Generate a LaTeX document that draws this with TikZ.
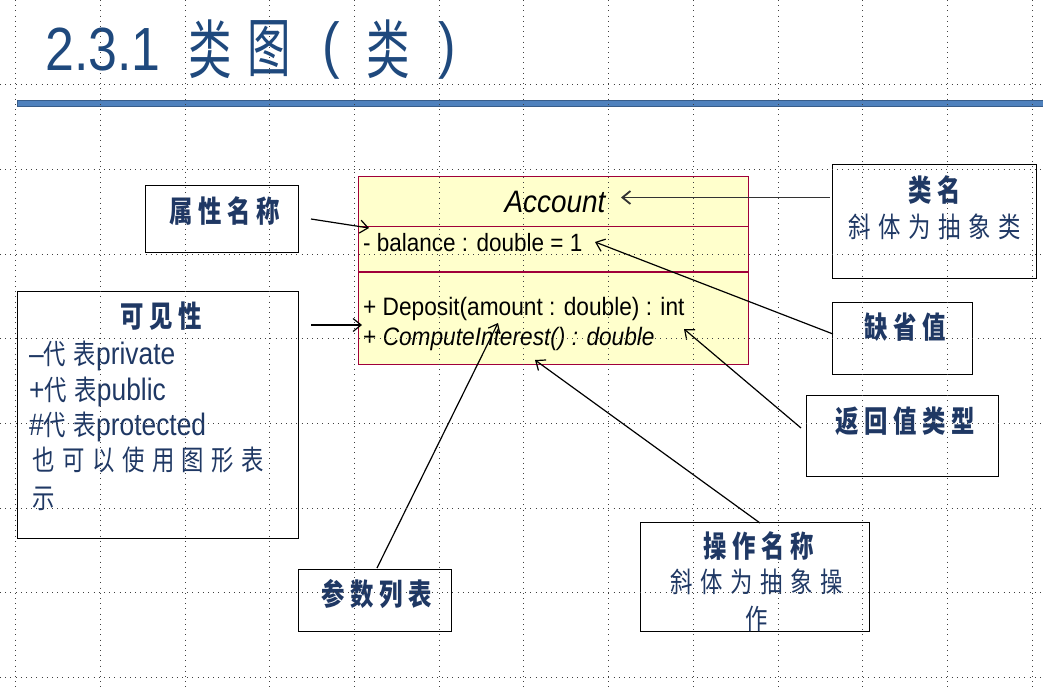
\documentclass[tikz,border=0pt]{standalone}
\usepackage{fontspec}
\usetikzlibrary{arrows.meta}
\setmainfont{Liberation Sans}
\newfontfamily\myUml[FakeStretch=0.9]{Liberation Sans}
\newfontfamily\myLat[FakeStretch=0.85]{Liberation Sans}
\newfontfamily\myCJKb[FakeStretch=0.78,LetterSpace=19]{Noto Sans CJK SC}
\newfontfamily\myCJKr[FakeStretch=0.8,LetterSpace=27]{Noto Sans CJK SC}
\newfontfamily\myCJKt[FakeStretch=0.68]{Noto Sans CJK SC}
\newcommand\myHdr{\fontsize{30}{30}\myCJKb\bfseries}
\newcommand\myBod{\fontsize{28}{28}\myCJKr}
\newcommand\myLatB{\fontsize{31}{31}\myLat}
\definecolor{tblue}{HTML}{1F497D}
\definecolor{lblue}{HTML}{1F3864}
\definecolor{barblue}{HTML}{4F81BD}
\definecolor{barline}{HTML}{385D8A}
\definecolor{clsfill}{HTML}{FFFFCC}
\definecolor{clsline}{HTML}{A0003A}
\tikzset{
  gridline/.style={line width=0.9pt, color=black!75, dash pattern=on 0.9pt off 4.3pt},
  lbox/.style={draw=black, line width=1.2pt, inner sep=0pt, anchor=north west},
  lab/.style={inner sep=0pt, text=lblue},
  ttl/.style={inner sep=0pt, text=tblue},
  umltext/.style={inner sep=0pt, text=black},
  arr/.style={-{Straight Barb[length=8pt,width=13pt]}, line width=1.2pt, black},
}
\begin{document}
\begin{tikzpicture}[x=1pt,y=-1pt]
\useasboundingbox (0,0) rectangle (1043,688);

% title
\node[ttl, anchor=base west] (t0) at (45,70) {\fontsize{61}{61}\myLat 2.3.1};
\node[ttl] (t1) at (210,49) {\fontsize{64}{64}\myCJKt 类};
\node[ttl] (t2) at (269.5,49) {\fontsize{64}{64}\myCJKt 图};
\node[ttl] (t3) at (331,50) {\fontsize{62}{62}\myLat (};
\node[ttl] (t4) at (388,49) {\fontsize{64}{64}\myCJKt 类};
\node[ttl] (t5) at (447.5,50) {\fontsize{62}{62}\myLat )};
\fill[barblue, draw=barline, line width=0.8pt] (17,100) rectangle (1043,106.5);

% class box
\node[draw=clsline, fill=clsfill, line width=1.2pt, minimum width=390pt, minimum height=188pt, anchor=north west, inner sep=0pt] (cls) at (358,176) {};
\draw[clsline, line width=1.2pt] (358,226.5) -- (748,226.5);
\draw[clsline, line width=1.2pt] (358,272) -- (748,272);
\node[umltext, anchor=base] (cname) at (555,212.5) {\fontsize{31}{31}\myUml\itshape Account};
\node[umltext, anchor=base west] (attr) at (363,251.5) {\fontsize{25}{25}\myUml - balance : double = 1};
\node[umltext, anchor=base west] (op1) at (363,315.5) {\fontsize{25.2}{25.2}\myUml + Deposit(amount : double) : int};
\node[umltext, anchor=base west] (op2) at (363,345) {\fontsize{25.2}{25.2}\myUml + \textit{ComputeInterest() : double}};

% label boxes
\node[lbox, minimum width=153pt, minimum height=67pt] (attrbox) at (145,185) {};
\node[lab] (attrlab) at (225,211) {\myHdr 属性名称};

\node[lbox, minimum width=281pt, minimum height=247pt] (visbox) at (17,291) {};
\node[lab] (vislab) at (161,316) {\myHdr 可见性};
\node[lab, anchor=base west] (v1) at (29,364) {{\myLatB –}\myBod 代表{\myLatB private}};
\node[lab, anchor=base west] (v2) at (29,400.5) {{\myLatB +}\myBod 代表{\myLatB public}};
\node[lab, anchor=base west] (v3) at (29,435.5) {{\myLatB \#}\myBod 代表{\myLatB protected}};
\node[lab, anchor=base west] (v4) at (32,470.5) {\myBod 也可以使用图形表};
\node[lab, anchor=base west] (v5) at (32,508.5) {\myBod 示};

\node[lbox, minimum width=203.5pt, minimum height=114pt] (namebox) at (832,164) {};
\node[lab] (namelab) at (935,190) {\myHdr 类名};
\node[lab] (namesub) at (935,226.5) {\myBod 斜体为抽象类};

\node[lbox, minimum width=140pt, minimum height=72pt] (defbox) at (832,302) {};
\node[lab] (deflab) at (905,327) {\myHdr 缺省值};

\node[lbox, minimum width=191.5pt, minimum height=81pt] (retbox) at (806,395) {};
\node[lab] (retlab) at (905,421) {\myHdr 返回值类型};

\node[lbox, minimum width=153pt, minimum height=62pt] (parbox) at (298,569) {};
\node[lab] (parlab) at (377,594) {\myHdr 参数列表};

\node[lbox, minimum width=229pt, minimum height=109.5pt] (opbox) at (640,521.5) {};
\node[lab] (oplab) at (759,546) {\myHdr 操作名称};
\node[lab] (opsub) at (757,582) {\myBod 斜体为抽象操};
\node[lab] (opsub2) at (757,619) {\myBod 作};

% connectors
\coordinate (a1s) at (311,219);   \coordinate (a1e) at (369,228);
\coordinate (a2s) at (311,325);   \coordinate (a2e) at (362,325);
\coordinate (a3s) at (830,197.5); \coordinate (a3e) at (621,197.5);
\coordinate (a4s) at (833,334);   \coordinate (a4e) at (595,242);
\coordinate (a5s) at (801,428);   \coordinate (a5e) at (684,329);
\coordinate (a6s) at (760,523);   \coordinate (a6e) at (535,360);
\coordinate (a7s) at (377,568);   \coordinate (a7e) at (498,323);
\draw[arr] (a1s) -- (a1e);
\draw[arr] (a2s) -- (a2e);
\draw[arr, line width=1.8pt, black!80] (a3s) -- (a3e);
\draw[arr] (a4s) -- (a4e);
\draw[arr] (a5s) -- (a5e);
\draw[arr] (a6s) -- (a6e);
\draw[arr] (a7s) -- (a7e);

% grid overlay
\foreach \i in {0,...,12} \draw[gridline] ({15.7+84.7*\i},0) -- ({15.7+84.7*\i},688);
\foreach \j in {1,...,8} \draw[gridline] (0,{84.7*\j}) -- (1043,{84.7*\j});
\end{tikzpicture}
\end{document}
